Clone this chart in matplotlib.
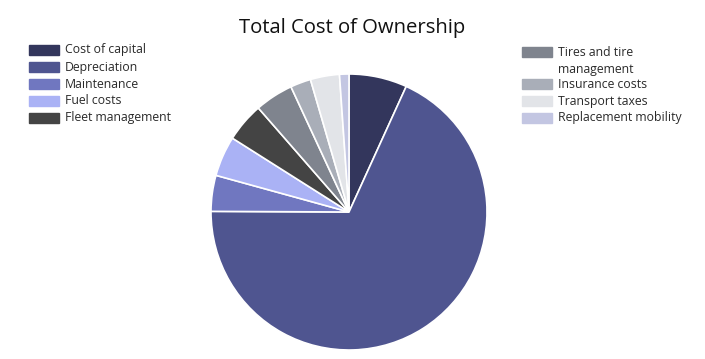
import matplotlib.pyplot as plt
from matplotlib.patches import Rectangle

plt.rcParams['font.family'] = ['Open Sans', 'DejaVu Sans']

labels = ["Cost of capital", "Depreciation", "Maintenance", "Fuel costs",
          "Fleet management", "Tires and tire\nmanagement", "Insurance costs",
          "Transport taxes", "Replacement mobility"]
values = [6.8, 68.2, 4.2, 4.7, 4.6, 4.5, 2.4, 3.4, 1.1]
colors = ["#33365c", "#4f5590", "#7077c0", "#aab2f5", "#444444",
          "#7f848e", "#a9aeb8", "#e2e4e8", "#c3c6e2"]

W, H = 705, 359
fig = plt.figure(figsize=(W / 100, H / 100), dpi=100)

# pie axes: centre (349, 212) from top, radius 138 px
cx, cy, r = 349, 212, 138
ax = fig.add_axes([(cx - r) / W, (H - cy - r) / H, 2 * r / W, 2 * r / H])
ax.pie(values, colors=colors, startangle=90, counterclock=False, radius=1,
       wedgeprops=dict(edgecolor="white", linewidth=1.2))
ax.set_xlim(-1, 1)
ax.set_ylim(-1, 1)
ax.set_aspect("equal")
ax.axis("off")

fig.text(352 / W, 1 - 28 / H, "Total Cost of Ownership", ha="center", va="center",
         fontsize=14.6, color="#111111")


def legend_block(idx, x0, rows):
    for i, y in zip(idx, rows):
        fig.patches.append(Rectangle((x0 / W, 1 - (y + 5) / H), 30 / W, 10 / H,
                                     transform=fig.transFigure, color=colors[i]))
        fig.text((x0 + 36) / W, 1 - y / H, labels[i].split("\n")[0], ha="left",
                 va="center", fontsize=8.8, color="#2a2a2a")
        for k, extra in enumerate(labels[i].split("\n")[1:]):
            fig.text((x0 + 36) / W, 1 - (y + 17 * (k + 1)) / H, extra, ha="left",
                     va="center", fontsize=8.8, color="#2a2a2a")


legend_block([0, 1, 2, 3, 4], 29, [50, 67, 84, 101, 118])
legend_block([5, 6, 7, 8], 522, [52, 84, 101, 118])

fig.savefig("out.png", dpi=100)
